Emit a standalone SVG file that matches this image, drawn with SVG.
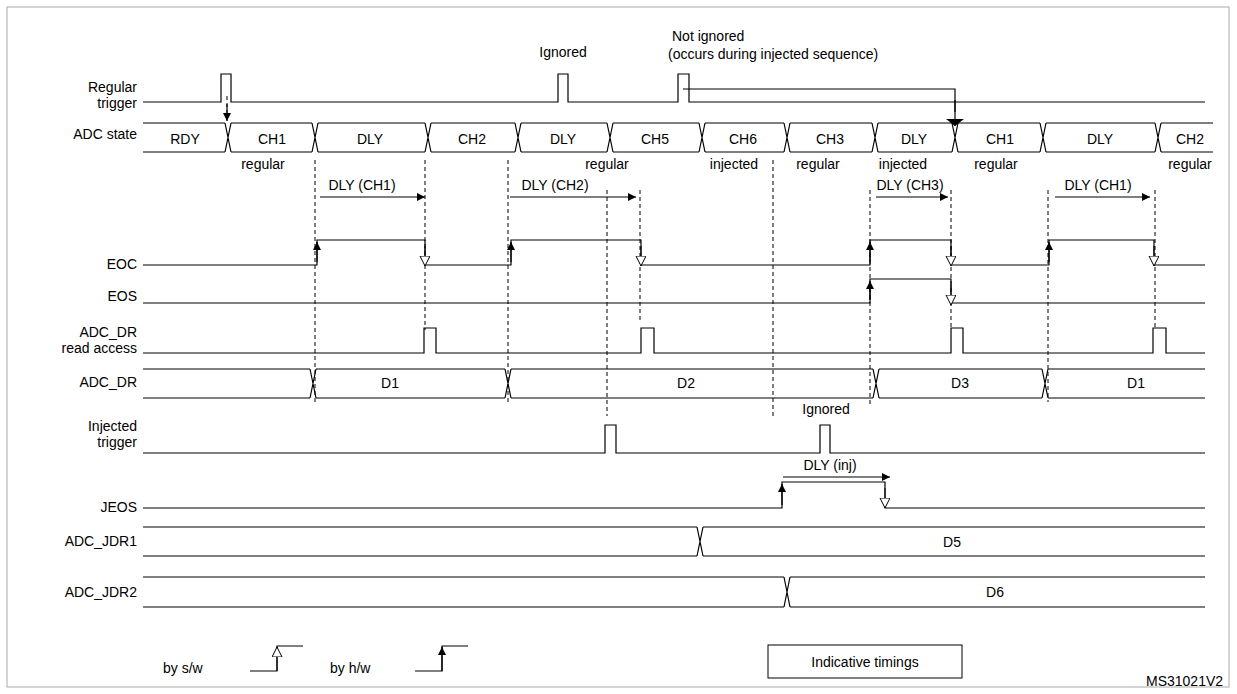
<svg xmlns="http://www.w3.org/2000/svg" width="1237" height="694" viewBox="0 0 1237 694">
<style>
text{font-family:"Liberation Sans",Arial,sans-serif;font-size:14px;fill:#000}
.l{text-anchor:end}.c{text-anchor:middle}
.w{fill:none;stroke:#000;stroke-width:1.2}
.d{fill:none;stroke:#000;stroke-width:1;stroke-dasharray:4,3}
.af{fill:none;stroke:#000;stroke-width:1.2;marker-end:url(#fa)}
.ao{fill:none;stroke:#000;stroke-width:1;marker-end:url(#oa)}
</style>
<defs>
<marker id="fa" markerUnits="userSpaceOnUse" markerWidth="10" markerHeight="10" refX="8" refY="4" orient="auto"><path d="M0 0L8 4L0 8Z" fill="#000"/></marker>
<marker id="oa" markerUnits="userSpaceOnUse" markerWidth="12" markerHeight="12" refX="10" refY="5" orient="auto"><path d="M0 0L10 5L0 10Z" fill="#fff" stroke="#000"/></marker>
<marker id="big" markerUnits="userSpaceOnUse" markerWidth="10" markerHeight="20" refX="7" refY="9" orient="auto"><path d="M0 0L7 9L0 18Z" fill="#000"/></marker>
</defs>
<rect x="7" y="7" width="1222" height="680" fill="#fff" stroke="#aaa" stroke-width="1"/>
<g id="labels">
<text class="l" x="137" y="92">Regular</text><text class="l" x="137" y="108">trigger</text>
<text class="l" x="137" y="139">ADC state</text>
<text class="l" x="137" y="269">EOC</text>
<text class="l" x="137" y="301">EOS</text>
<text class="l" x="137" y="337">ADC_DR</text><text class="l" x="137" y="353">read access</text>
<text class="l" x="137" y="387">ADC_DR</text>
<text class="l" x="137" y="431">Injected</text><text class="l" x="137" y="447">trigger</text>
<text class="l" x="137" y="512">JEOS</text>
<text class="l" x="137" y="546">ADC_JDR1</text>
<text class="l" x="137" y="597">ADC_JDR2</text>
</g>
<g id="regular-trigger">
<path class="w" d="M143 102H221V74H231V102H558V74H568V102H678V74H689V102H1205"/>
<text class="c" x="563" y="57">Ignored</text>
<text x="672" y="41">Not ignored</text>
<text x="668" y="59">(occurs during injected sequence)</text>
</g>
<g id="adc-state">
<path class="w" d="M143 123H225M231 123H312M318 123H425M431 123H515M521 123H607M613 123H699M705 123H784M790 123H872M878 123H952M958 123H1040M1046 123H1155M1161 123H1213
M143 152H225M231 152H312M318 152H425M431 152H515M521 152H607M613 152H699M705 152H784M790 152H872M878 152H952M958 152H1040M1046 152H1155M1161 152H1213
M225 123L231 152M225 152L231 123M312 123L318 152M312 152L318 123M425 123L431 152M425 152L431 123M515 123L521 152M515 152L521 123M607 123L613 152M607 152L613 123M699 123L705 152M699 152L705 123M784 123L790 152M784 152L790 123M872 123L878 152M872 152L878 123M952 123L958 152M952 152L958 123M1040 123L1046 152M1040 152L1046 123M1155 123L1161 152M1155 152L1161 123"/>
<text class="c" x="185" y="144">RDY</text><text class="c" x="272" y="144">CH1</text><text class="c" x="370" y="144">DLY</text><text class="c" x="472" y="144">CH2</text><text class="c" x="563" y="144">DLY</text><text class="c" x="655" y="144">CH5</text><text class="c" x="743" y="144">CH6</text><text class="c" x="830" y="144">CH3</text><text class="c" x="914" y="144">DLY</text><text class="c" x="1000" y="144">CH1</text><text class="c" x="1100" y="144">DLY</text><text class="c" x="1190" y="144">CH2</text>
<text class="c" x="263" y="169">regular</text><text class="c" x="607" y="169">regular</text><text class="c" x="734" y="169">injected</text><text class="c" x="818" y="169">regular</text><text class="c" x="903" y="169">injected</text><text class="c" x="996" y="169">regular</text><text class="c" x="1190" y="169">regular</text>
</g>
<g id="dly-labels">
<text class="c" x="362" y="190">DLY (CH1)</text><text class="c" x="555" y="190">DLY (CH2)</text><text class="c" x="910" y="190">DLY (CH3)</text><text class="c" x="1098" y="190">DLY (CH1)</text>
<text class="c" x="830" y="470">DLY (inj)</text>
</g>
<g id="eoc"><path class="w" d="M143 265H317V240H425V265H511V240H641V265H870V240H951V265H1049V240H1154V265H1205"/></g>
<g id="eos"><path class="w" d="M143 303H870V279H951V303H1205"/></g>
<g id="adc-dr-read"><path class="w" d="M143 353H424V328H436V353H641V328H654V353H951V328H963V353H1153V328H1166V353H1205"/></g>
<g id="adc-dr">
<path class="w" d="M143 369H310M316 369H505M511 369H873M879 369H1042M1048 369H1205M143 398H310M316 398H505M511 398H873M879 398H1042M1048 398H1205M310 369L316 398M310 398L316 369M505 369L511 398M505 398L511 369M873 369L879 398M873 398L879 369M1042 369L1048 398M1042 398L1048 369"/>
<text class="c" x="390" y="388">D1</text><text class="c" x="686" y="388">D2</text><text class="c" x="960" y="388">D3</text><text class="c" x="1136" y="388">D1</text>
</g>
<g id="injected-trigger">
<path class="w" d="M143 453H605V425H616V453H820V425H830V453H1205"/>
<text class="c" x="826" y="414">Ignored</text>
</g>
<g id="jeos"><path class="w" d="M143 508H782V482H885V508H1205"/></g>
<g id="adc-jdr1">
<path class="w" d="M143 527H697M703 527H1205M143 556H697M703 556H1205M697 527L703 556M697 556L703 527"/>
<text class="c" x="952" y="547">D5</text>
</g>
<g id="adc-jdr2">
<path class="w" d="M143 577H784M790 577H1205M143 607H784M790 607H1205M784 577L790 607M784 607L790 577"/>
<text class="c" x="995" y="597">D6</text>
</g>
<g id="connectors">
<path class="d" d="M315 160V402M425 160V330M508 160V402M607 190V416M640 190V322M773 160V416M870 190V406M951 190V330M1048 190V402M1155 190V330M227 96V116"/>
<path class="af" d="M227 104V121"/>
<path class="w" d="M683 89H955V112"/>
<path class="w" d="M955 100V126" style="marker-end:url(#big)"/>
<path class="af" d="M320 197H425"/><path class="af" d="M510 197H636"/><path class="af" d="M876 197H948"/><path class="af" d="M1055 197H1150"/>
<path class="af" d="M783 477H890"/>
<path class="af" d="M317 262V242"/><path class="af" d="M511 262V242"/><path class="af" d="M870 262V242"/><path class="af" d="M1049 262V242"/>
<path class="af" d="M870 300V281"/><path class="af" d="M782 505V484"/>
<path class="ao" d="M425 246V266"/><path class="ao" d="M641 246V266"/><path class="ao" d="M951 246V266"/><path class="ao" d="M1154 246V266"/>
<path class="ao" d="M951 285V305"/><path class="ao" d="M885 488V508"/>
</g>
<g id="legend">
<text x="163" y="673">by s/w</text>
<path class="w" d="M250 671H277V646H303"/><path class="ao" d="M277 671V647"/>
<text x="330" y="673">by h/w</text>
<path class="w" d="M415 671H442V646H468"/><path class="af" d="M442 671V647"/>
<rect x="768" y="645" width="194" height="33" fill="none" stroke="#000" stroke-width="1"/>
<text class="c" x="865" y="667">Indicative timings</text>
<text x="1146" y="686">MS31021V2</text>
</g>
</svg>
